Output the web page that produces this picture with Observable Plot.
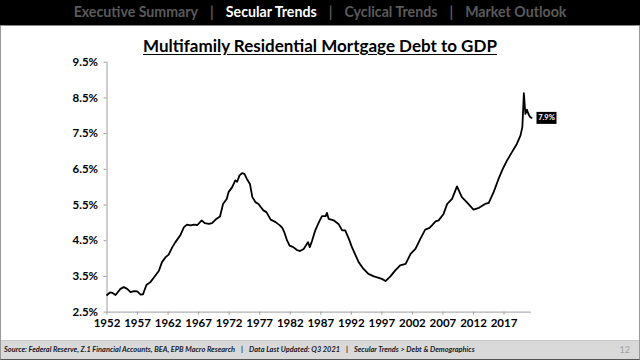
<!DOCTYPE html>
<html>
<head>
<meta charset="utf-8">
<script src="https://cdn.jsdelivr.net/npm/d3@7"></script>
<script src="https://cdn.jsdelivr.net/npm/@observablehq/plot@0.6"></script>
<style>
  html, body { margin: 0; padding: 0; background: #fff; }
  #slide { position: relative; width: 640px; height: 360px; overflow: hidden; background: #fff; font-family: Lato, "Open Sans", sans-serif; }
  #nav { position: absolute; left: 0; top: 0; width: 640px; height: 26px; background: #000; border-bottom: 1px solid #8a8a8a; box-sizing: border-box; }
  #nav .items { position: absolute; left: 0; width: 640px; text-align: center; top: 3px; font-weight: 700; font-size: 14.2px; color: #5a5a5a; white-space: nowrap; }
  #nav .items .on { color: #fff; }
  #nav .items .sep { margin: 0 12px; }
  #frame { position: absolute; left: 0; top: 26px; width: 640px; height: 334px; border-left: 1px solid #9a9a9a; border-right: 1px solid #9a9a9a; border-bottom: 1px solid #555; box-sizing: border-box; }
  #title { position: absolute; left: 0; width: 640px; top: 35px; text-align: center; font-weight: 700; font-size: 17px; text-decoration: underline; text-underline-offset: 2px; color: #000; }
  #chart { position: absolute; left: 0; top: 40px; }
  #footer { position: absolute; left: 1px; top: 340px; width: 638px; height: 19px; background: #d9d9d9; border-top: 1px solid #c8c8c8; box-sizing: border-box; }
  #footer .src { position: absolute; left: 3px; top: 4px; font-size: 7.4px; font-weight: 700; font-style: italic; color: #1a1a2a; white-space: nowrap; }
  #footer .src .sep { margin: 0 6px; }
  #footer .pg { position: absolute; right: 9px; top: 3px; font-size: 9px; color: #a0a0a0; }
</style>
</head>
<body>
<div id="slide">
  <div id="nav"><div class="items"><span>Executive Summary</span><span class="sep">|</span><span class="on">Secular Trends</span><span class="sep">|</span><span>Cyclical Trends</span><span class="sep">|</span><span>Market Outlook</span></div></div>
  <div id="frame"></div>
  <div id="chart"></div>
  <div id="title">Multifamily Residential Mortgage Debt to GDP</div>
  <div id="footer">
    <div class="src">Source: Federal Reserve, Z.1 Financial Accounts, BEA, EPB Macro Research<span class="sep">|</span>Data Last Updated: Q3 2021<span class="sep">|</span>Secular Trends &gt; Debt &amp; Demographics</div>
    <div class="pg">12</div>
  </div>
</div>
<script>
// Quarterly-ish readings (decimal year) of multifamily mortgage debt / GDP, %
const dates = [
  1952.0, 1952.5, 1952.85, 1953.4, 1954.2, 1954.75, 1955.3, 1955.85, 1956.4, 1956.95,
  1957.5, 1957.9, 1958.45, 1959.1, 1959.9, 1960.5, 1961.0, 1961.6, 1962.1, 1962.7,
  1963.2, 1964.0, 1964.6, 1965.1, 1965.7, 1966.2, 1966.8, 1967.5, 1968.0, 1968.7,
  1969.2, 1969.9, 1970.5, 1971.0, 1971.6, 1971.9, 1972.5, 1973.0, 1973.3, 1973.7,
  1974.1, 1974.5, 1974.9, 1975.4, 1975.8, 1976.3, 1976.8, 1977.6, 1978.1, 1978.8,
  1979.6, 1980.3, 1980.7, 1981.0, 1981.5, 1981.9, 1982.5, 1983.1, 1983.6, 1984.2,
  1984.9, 1985.2, 1985.6, 1986.1, 1986.7, 1987.2, 1987.8, 1988.0, 1988.3, 1989.1,
  1989.9, 1990.5, 1991.0, 1991.6, 1992.1, 1992.7, 1993.2, 1994.0, 1994.8, 1995.7,
  1996.5, 1997.0, 1997.6, 1998.4, 1999.2, 2000.0, 2000.9, 2001.7, 2002.5, 2003.3,
  2004.1, 2004.8, 2005.2, 2005.8, 2006.3, 2007.1, 2007.7, 2008.5, 2009.3, 2010.1,
  2010.9, 2012.0, 2012.9, 2013.9, 2014.5, 2015.3, 2016.1, 2016.8, 2017.5, 2018.3,
  2019.1, 2019.7, 2020.0, 2020.25, 2020.5, 2020.75, 2021.0, 2021.25, 2021.5
];
const values = [
  2.98, 3.05, 3.04, 2.98, 3.15, 3.20, 3.15, 3.06, 3.09, 3.08,
  2.99, 3.00, 3.26, 3.34, 3.52, 3.66, 3.90, 4.04, 4.11, 4.32,
  4.46, 4.65, 4.88, 4.95, 4.93, 4.95, 4.94, 5.07, 4.99, 4.97,
  4.99, 5.11, 5.18, 5.53, 5.67, 5.86, 6.00, 6.19, 6.15, 6.33,
  6.39, 6.37, 6.23, 6.09, 5.72, 5.58, 5.53, 5.35, 5.30, 5.09,
  5.02, 4.93, 4.86, 4.75, 4.50, 4.36, 4.32, 4.24, 4.21, 4.27,
  4.46, 4.32, 4.51, 4.79, 5.02, 5.19, 5.19, 5.28, 5.11, 5.07,
  4.97, 4.79, 4.79, 4.55, 4.32, 4.09, 3.90, 3.71, 3.57, 3.50,
  3.46, 3.43, 3.37, 3.50, 3.67, 3.81, 3.85, 4.13, 4.27, 4.55,
  4.81, 4.86, 4.93, 5.04, 5.07, 5.25, 5.53, 5.67, 6.02, 5.72,
  5.58, 5.37, 5.42, 5.53, 5.56, 5.86, 6.23, 6.51, 6.75, 6.98,
  7.21, 7.45, 7.68, 8.63, 8.05, 8.17, 8.05, 7.97, 7.94
];
const xTicks = [1952, 1957, 1962, 1967, 1972, 1977, 1982, 1987, 1992, 1997, 2002, 2007, 2012, 2017];
const yTicks = [2.5, 3.5, 4.5, 5.5, 6.5, 7.5, 8.5, 9.5];
const xDomain = [1952, 2021.5];
const yDomain = [2.5, 9.5];

const data = dates.map((d, i) => ({date: d, value: values[i]}));
const last = data[data.length - 1];

const boxSymbol = { draw(ctx) { ctx.rect(-10, -6, 20, 12); } };

const chart = Plot.plot({
  width: 640,
  height: 300,
  marginLeft: 106.5,
  marginRight: 109,
  marginTop: 21.7,
  marginBottom: 28.4,
  style: { fontFamily: "Lato, 'Open Sans', sans-serif", background: "transparent", overflow: "visible" },
  x: { domain: xDomain },
  y: { domain: yDomain },
  marks: [
    Plot.ruleY([yDomain[0]], { stroke: "#9e9e9e", strokeWidth: 1 }),
    Plot.ruleX([xDomain[0]], { stroke: "#9e9e9e", strokeWidth: 1 }),
    Plot.axisX({ ticks: xTicks, tickFormat: d => String(d), tickSize: 3, tickPadding: 4, stroke: "#9e9e9e", fill: "#000", fontSize: 11.5, fontWeight: 700, label: null }),
    Plot.axisY({ ticks: yTicks, tickFormat: d => d.toFixed(1) + "%", tickSize: 3, tickPadding: 6, stroke: "#9e9e9e", fill: "#000", fontSize: 11.5, fontWeight: 700, label: null }),
    Plot.line(data, { x: "date", y: "value", stroke: "#000", strokeWidth: 1.8, strokeLinejoin: "round" }),
    Plot.dot([last], { x: "date", y: "value", symbol: boxSymbol, fill: "#000", stroke: null, dx: 15 }),
    Plot.text([last], { x: "date", y: "value", text: d => d.value.toFixed(1) + "%", dx: 15, fill: "#fff", fontSize: 7.5, fontWeight: 700 })
  ]
});
document.getElementById("chart").appendChild(chart);
</script>
</body>
</html>
